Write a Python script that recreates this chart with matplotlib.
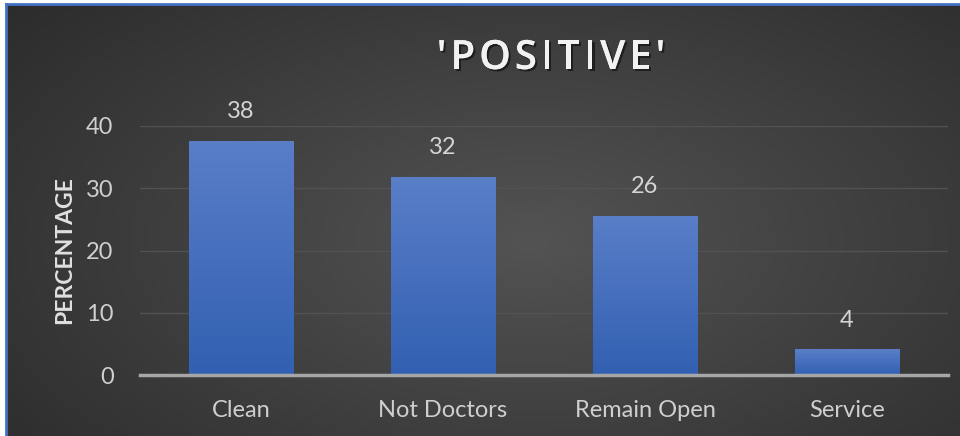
import numpy as np
import matplotlib.pyplot as plt
import matplotlib.patheffects as pe
from matplotlib.colors import LinearSegmentedColormap

# data
categories = ['Clean', 'Not Doctors', 'Remain Open', 'Service']
values = [37.6, 31.8, 25.6, 4.1]
yticks = [0, 10, 20, 30, 40]
title = "'POSITIVE'"

plt.rcParams['font.family'] = ['Lato', 'DejaVu Sans']

fig = plt.figure(figsize=(9.6, 4.36), dpi=100, facecolor='white')

# background panel with radial gradient and blue frame (top / left)
bg = fig.add_axes([6/960, 0, 954/960, 432/436])
yy, xx = np.mgrid[0:1:200j, 0:1:400j]
r = np.sqrt(((xx - 0.55) / 0.75) ** 2 + ((yy - 0.55) / 0.9) ** 2)
bgcmap = LinearSegmentedColormap.from_list('bg', ['#535353', '#2a2a2a'])
bg.imshow(np.clip(r, 0, 1), cmap=bgcmap, aspect='auto', extent=[0, 1, 0, 1],
          vmin=0, vmax=1)
bg.set_xlim(0, 1)
bg.set_ylim(0, 1)
bg.set_xticks([])
bg.set_yticks([])
for s in ['right', 'bottom']:
    bg.spines[s].set_visible(False)
for s in ['top', 'left']:
    bg.spines[s].set_color('#4472c4')
    bg.spines[s].set_linewidth(2)

ax = fig.add_axes([140/960, 1 - 375/436, 808/960, (375 - 126)/436])
ax.patch.set_alpha(0)
x = np.arange(len(categories))
bars = ax.bar(x, values, width=0.515, color='#4a72c0', zorder=3)

# vertical gradient on bars
barcmap = LinearSegmentedColormap.from_list('bar', ['#3260b2', '#5a7ec8'])
grad = np.linspace(0, 1, 256).reshape(-1, 1)
for b in bars:
    x0, y0 = b.get_x(), b.get_y()
    im = ax.imshow(grad, cmap=barcmap, aspect='auto', origin='lower',
                   extent=[x0, x0 + b.get_width(), y0, y0 + b.get_height()],
                   zorder=3.5)
    im.set_clip_path(b)

for xi, v in zip(x, values):
    ax.annotate(f'{v:.0f}', (xi, v), xytext=(0, 21), textcoords='offset points',
                ha='center', va='center', color='#d4d4d4', fontsize=17,
                annotation_clip=False)

ax.set_xlim(-0.5, len(categories) - 0.5)
ax.set_ylim(0, 40)
ax.set_yticks(yticks)
ax.set_xticks(x)
ax.set_xticklabels(categories)
ax.tick_params(axis='both', length=0, colors='#cfcfcf', labelsize=17)
ax.tick_params(axis='y', pad=19)
ax.tick_params(axis='x', pad=18)
ax.grid(axis='y', color='#525252', linewidth=1, zorder=0)
for s in ['top', 'right', 'left']:
    ax.spines[s].set_visible(False)
ax.spines['bottom'].set_color('#a6a6a6')
ax.spines['bottom'].set_linewidth(2.5)
ax.spines['bottom'].set_zorder(4)

ax.set_ylabel('PERCENTAGE', color='#e0e0e0', fontsize=16.5, fontweight='bold',
              labelpad=8)

# title with letter spacing: place each character
renderer = fig.canvas.get_renderer()
shadow = [pe.withSimplePatchShadow(offset=(1.5, -1.5), shadow_rgbFace='black',
                                   alpha=0.5), pe.Normal()]
kw = dict(color='#f2f2f2', fontsize=29, fontfamily='Open Sans',
          fontweight='semibold', va='center', ha='left', path_effects=shadow)
spacing = 4  # px between characters
widths = []
for ch in title:
    t = fig.text(0, 0, ch, **kw)
    widths.append(t.get_window_extent(renderer).width)
    t.remove()
total = sum(widths) + spacing * (len(title) - 1)
xpos = 551 - total / 2
for ch, w in zip(title, widths):
    fig.text(xpos / 960, 1 - 59/436, ch, **kw)
    xpos += w + spacing

fig.savefig('out.png', dpi=100, facecolor='white')
